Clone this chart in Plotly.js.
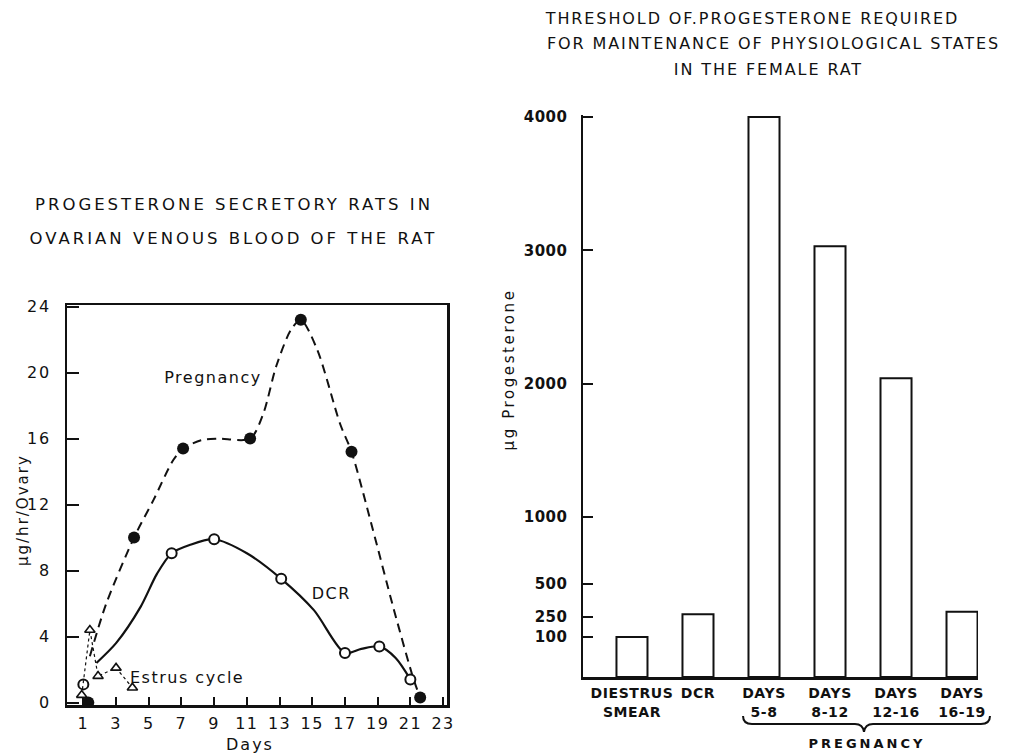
<!DOCTYPE html>
<html>
<head>
<meta charset="utf-8">
<script src="https://cdn.plot.ly/plotly-3.0.1.min.js"></script>
<style>
  html, body { margin: 0; padding: 0; background: #fff; }
  #chart { width: 1026px; height: 753px; }
  .subplot.xy .xtick text { letter-spacing: 1.5px; }
  .subplot.xy .ytick text { letter-spacing: 2px; }
  .subplot.x2y2 .y2tick text { letter-spacing: 0.5px; }
  .subplot.x2y2 .x2tick text { letter-spacing: 0.6px; }
  g.annotation text { letter-spacing: 2.6px; }
  g.annotation[data-index="0"] text,
  g.annotation[data-index="1"] text { letter-spacing: 3px; }
  g.annotation[data-index="2"] text,
  g.annotation[data-index="3"] text,
  g.annotation[data-index="4"] text { letter-spacing: 1.9px; }
  g.annotation[data-index="5"] text,
  g.annotation[data-index="6"] text { letter-spacing: 2px; }
  g.annotation[data-index="7"] text,
  g.annotation[data-index="8"] text,
  g.annotation[data-index="9"] text { letter-spacing: 1.5px; }
  g.annotation[data-index="11"] text { letter-spacing: 3px; }
</style>
</head>
<body>
<div id="chart"></div>
<script>
// ---------- Left chart: progesterone secretory rates ----------
const dayTicks = [1, 3, 5, 7, 9, 11, 13, 15, 17, 19, 21, 23];
const rateTicks = [0, 4, 8, 12, 16, 20, 24];

// Pregnancy (filled circles, dashed curve)
const pregDays = [1.3, 4.1, 7.1, 11.2, 14.3, 17.4, 21.6];
const pregVals = [0.0, 10.0, 15.4, 16.0, 23.2, 15.2, 0.3];
const pregCurveDays = [1.4, 2.4, 4.1, 5.3, 6.5, 7.1, 8.2, 9.2, 11.2, 12.0, 12.8, 13.7, 14.3, 15.3, 16.7, 17.4, 18.7, 20.0, 21.2, 21.6];
const pregCurveVals = [2.8, 6.0, 10.0, 12.3, 14.7, 15.4, 15.9, 16.0, 16.0, 17.5, 20.4, 22.6, 23.2, 21.4, 16.9, 15.2, 10.5, 5.6, 1.4, 0.3];

// DCR (open circles, solid curve)
const dcrDays = [1.0, 6.4, 9.0, 13.1, 17.0, 19.1, 21.0];
const dcrVals = [1.1, 9.05, 9.9, 7.5, 3.0, 3.4, 1.4];
const dcrCurveDays = [1.8, 3.0, 4.5, 5.5, 6.4, 7.5, 9.0, 11.0, 13.1, 15.1, 17.0, 18.0, 19.1, 20.1, 21.0];
const dcrCurveVals = [2.4, 3.6, 5.8, 7.8, 9.05, 9.55, 9.9, 9.05, 7.5, 5.6, 3.0, 3.25, 3.4, 2.7, 1.4];

// Estrus cycle (open triangles, dotted)
const estDays = [0.9, 1.4, 1.9, 3.0, 4.0];
const estVals = [0.45, 4.4, 1.6, 2.1, 0.9];

// ---------- Right chart: threshold of progesterone ----------
const stateCats = ["DIESTRUS<br>SMEAR", "DCR", "DAYS<br>5-8", "DAYS<br>8-12", "DAYS<br>12-16", "DAYS<br>16-19"];
const thresholdVals = [100, 270, 4000, 3030, 2040, 290];
const doseTicks = [100, 250, 500, 1000, 2000, 3000, 4000];
const doseTickText = ["100", "250", "500", "1000", "2000", "3000", "4000"];

// ---------- layout helpers (pixel -> paper) ----------
const W = 1026, H = 753;
const px = x => x / W;
const py = y => 1 - y / H;
const INK = '#111';
const FONT = 'DejaVu Sans';
const BAR_BASE = -200;   // bars rise from the bottom axis line

const traces = [
  { type: 'scatter', mode: 'lines', x: pregCurveDays, y: pregCurveVals,
    line: { color: INK, width: 2, dash: '9px,6px', shape: 'spline', smoothing: 0.8 },
    xaxis: 'x', yaxis: 'y', hoverinfo: 'skip' },
  { type: 'scatter', mode: 'markers', x: pregDays, y: pregVals,
    marker: { symbol: 'circle', size: 12, color: INK },
    xaxis: 'x', yaxis: 'y' },
  { type: 'scatter', mode: 'lines', x: dcrCurveDays, y: dcrCurveVals,
    line: { color: INK, width: 2.2, shape: 'spline', smoothing: 0.8 },
    xaxis: 'x', yaxis: 'y', hoverinfo: 'skip' },
  { type: 'scatter', mode: 'markers', x: dcrDays, y: dcrVals,
    marker: { symbol: 'circle', size: 10, color: '#fff', line: { color: INK, width: 2 } },
    xaxis: 'x', yaxis: 'y' },
  { type: 'scatter', mode: 'lines+markers', x: estDays, y: estVals,
    line: { color: INK, width: 1.2, dash: 'dot' },
    marker: { symbol: 'triangle-up', size: 9, color: '#fff', line: { color: INK, width: 1.6 } },
    xaxis: 'x', yaxis: 'y' },
  { type: 'bar', x: stateCats, y: thresholdVals.map(v => v - BAR_BASE), base: BAR_BASE,
    width: 0.47, marker: { color: '#fff', line: { color: INK, width: 2 } },
    xaxis: 'x2', yaxis: 'y2' }
];

const axBase = { showgrid: false, zeroline: false, showline: true, linecolor: INK,
  tickcolor: INK, fixedrange: true };

const annFont = (size, bold) => ({ family: FONT, size: size, color: INK, weight: bold ? 'bold' : 'normal' });

const annotations = [
  // 0-1 left title
  { text: 'PROGESTERONE SECRETORY RATS IN', x: px(234), y: py(205), font: annFont(16.5) },
  { text: 'OVARIAN VENOUS BLOOD OF THE RAT', x: px(234), y: py(239), font: annFont(16.5) },
  // 2-4 right title
  { text: 'THRESHOLD OF.PROGESTERONE REQUIRED', x: px(752), y: py(19), font: annFont(16) },
  { text: 'FOR MAINTENANCE OF PHYSIOLOGICAL STATES', x: px(773), y: py(44), font: annFont(16) },
  { text: 'IN THE FEMALE RAT', x: px(768), y: py(69), font: annFont(16) },
  // 5-6 left axis titles
  { text: 'μg/hr/Ovary', x: px(23), y: py(510), textangle: -90, font: annFont(15) },
  { text: 'Days', x: px(250), y: py(744), font: annFont(16) },
  // 7-9 series labels
  { text: 'Pregnancy', xref: 'x', yref: 'y', x: 8.9, y: 19.7, font: annFont(16) },
  { text: 'DCR', xref: 'x', yref: 'y', x: 16.2, y: 6.6, font: annFont(16) },
  { text: 'Estrus cycle', xref: 'x', yref: 'y', x: 4.3, y: 1.5, xanchor: 'left', font: annFont(16) },
  // 10 right y title
  { text: 'μg Progesterone', x: px(509), y: py(370), textangle: -90, font: annFont(15) },
  // 11 brace label
  { text: 'PREGNANCY', x: px(867), y: py(743), font: annFont(13, true) }
].map(a => Object.assign({ xref: 'paper', yref: 'paper', showarrow: false,
  xanchor: 'center', yanchor: 'middle' }, a));

// curly brace under the pregnancy bars
const P = (x, y) => px(x).toFixed(4) + ',' + py(y).toFixed(4);
const bracePath = 'M' + P(743, 716) + ' Q' + P(743, 724) + ' ' + P(752, 724) +
  ' L' + P(855, 724) + ' Q' + P(863, 724) + ' ' + P(864, 732) +
  ' Q' + P(865, 724) + ' ' + P(873, 724) + ' L' + P(981, 724) +
  ' Q' + P(990, 724) + ' ' + P(990, 716);

const layout = {
  width: W, height: H,
  margin: { l: 0, r: 0, t: 0, b: 0 },
  paper_bgcolor: '#fff', plot_bgcolor: 'rgba(0,0,0,0)',
  showlegend: false,
  font: { family: FONT, color: INK },
  xaxis: Object.assign({}, axBase, {
    domain: [px(67), px(447)], range: [0, 23.24], anchor: 'y',
    tickmode: 'array', tickvals: dayTicks,
    ticks: 'inside', ticklen: 8, tickwidth: 2, linewidth: 2.5, mirror: true,
    tickfont: { family: FONT, size: 16, color: INK }, ticklabelstandoff: 2
  }),
  yaxis: Object.assign({}, axBase, {
    domain: [py(705), py(305)], range: [-0.15, 24.1], anchor: 'x',
    tickmode: 'array', tickvals: rateTicks,
    ticks: 'inside', ticklen: 12, tickwidth: 2, linewidth: 2.5, mirror: true,
    tickfont: { family: FONT, size: 16, color: INK }, ticklabelstandoff: 10
  }),
  xaxis2: Object.assign({}, axBase, {
    domain: [px(583), px(978)], anchor: 'y2', type: 'category',
    range: [-0.742, 5.242], ticks: '', linewidth: 2.5,
    tickfont: { family: FONT, size: 14, color: INK, weight: 'bold' }, ticklabelstandoff: 2
  }),
  yaxis2: Object.assign({}, axBase, {
    domain: [py(677), py(115)], anchor: 'x2', range: [BAR_BASE, 4015],
    tickmode: 'array', tickvals: doseTicks, ticktext: doseTickText,
    ticks: 'inside', ticklen: 10, tickwidth: 2, linewidth: 2.5,
    tickfont: { family: FONT, size: 15, color: INK, weight: 'bold' }, ticklabelstandoff: 10
  }),
  annotations: annotations,
  shapes: [{ type: 'path', xref: 'paper', yref: 'paper', path: bracePath,
    line: { color: INK, width: 2 } }]
};

Plotly.newPlot('chart', traces, layout, { staticPlot: true, displayModeBar: false });
</script>
</body>
</html>
